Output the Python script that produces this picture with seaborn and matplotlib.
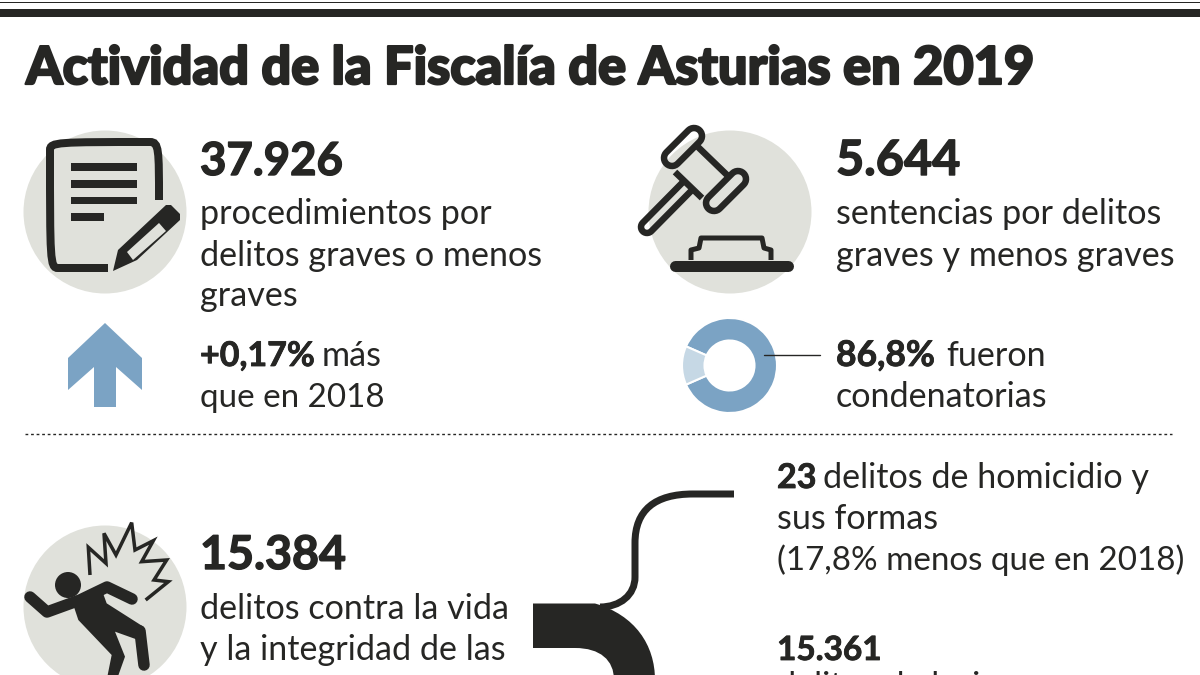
import numpy as np
import matplotlib
matplotlib.use("Agg")
import matplotlib.pyplot as plt
import matplotlib.patheffects as pe
from matplotlib.patches import Circle, Polygon, PathPatch, Rectangle
from matplotlib.path import Path
import seaborn as sns

# ---- data ----
TITLE = "Actividad de la Fiscalía de Asturias en 2019"
BIG_NUMBERS = ["37.926", "5.644", "15.384"]
SENTENCE_SHARE = [86.8, 13.2]
SHARE_LABEL = "86,8%"
CHANGE_LABEL = "+0,17%"
HOMICIDE_LABEL = "23"
INJURY_LABEL = "15.361"

INK = "#262624"
DISC = "#E0E1DB"
BLUE = "#7BA3C4"
PALE = "#C6D8E5"

sns.set_theme(style="white")
LIGHT = ["Lato", "DejaVu Sans"]
HEAVY = ["Lato", "DejaVu Sans"]
plt.rcParams["font.family"] = LIGHT

fig = plt.figure(figsize=(12, 6.75), dpi=100, facecolor="white")
ax = fig.add_axes([0, 0, 1, 1])
PX = 0.72


def text(x, y, s, size=24.6, weight="normal", family=None, thick=0):
    t = ax.text(x, y, s, fontsize=size, weight=weight, color=INK, va="baseline",
                ha="left", family=family or LIGHT, zorder=5)
    if thick:
        t.set_path_effects([pe.withStroke(linewidth=thick, foreground=INK)])
    return t


def stroke(pts, lw, color=INK, cap="butt", join="round", z=3, closed=False):
    pts = np.array(pts, float)
    ax.add_patch(Polygon(pts, closed=closed, fill=False, edgecolor=color, linewidth=lw * PX,
                         capstyle=cap, joinstyle=join, zorder=z))


def capsule(p, q, hw):
    p, q = np.array(p, float), np.array(q, float)
    a = np.arctan2(*(q - p)[::-1])
    t1 = np.linspace(a + np.pi / 2, a - np.pi / 2, 14)
    t2 = np.linspace(a - np.pi / 2, a - 3 * np.pi / 2, 14)
    return np.vstack([q + hw * np.c_[np.cos(t1), np.sin(t1)],
                      p + hw * np.c_[np.cos(t2), np.sin(t2)]])


def curve(verts, codes, lw=None, face="none", z=3):
    ax.add_patch(PathPatch(Path(verts, codes), facecolor=face,
                           edgecolor=INK if lw else "none", linewidth=(lw or 0) * PX,
                           capstyle="butt", zorder=z))


M, L, C = Path.MOVETO, Path.LINETO, Path.CURVE4

# rules
ax.add_patch(Rectangle((0, 1.5), 1200, 1.6, color=INK, lw=0))
ax.add_patch(Rectangle((0, 9.3), 1200, 8, color=INK, lw=0))
text(26, 84, TITLE, size=37.6, weight=900, family=HEAVY, thick=1.6)

# discs
for c in [(105, 212), (730, 212), (105, 607)]:
    ax.add_patch(Circle(c, 81.5, color=DISC, lw=0, zorder=1))

# document icon
curve([(108, 268), (58, 268), (50, 268), (50, 260), (50, 150), (50, 142), (58, 142),
       (150, 142), (159, 142), (159, 150), (159, 200)],
      [M, L, C, C, L, C, C, L, C, C, L], lw=8)
for y0, y1, x1 in [(163, 171, 137), (180, 188, 137), (197, 204, 137), (213, 221, 104)]:
    ax.add_patch(Rectangle((71, y0), x1 - 71, y1 - y0, color=INK, lw=0, zorder=3))
ax.add_patch(Polygon([(113, 271), (118, 250), (166, 205), (171, 205), (180, 214), (180, 220),
                      (137, 260)], color=INK, lw=0, zorder=3))
ax.add_patch(Polygon([(127, 252), (159, 223), (166, 231), (133, 260)], color=DISC, lw=0, zorder=4))

# arrow
ax.add_patch(Polygon([(105, 323), (142, 358), (142, 390), (116, 367), (116, 407), (94, 407),
                      (94, 367), (68, 390), (68, 358)], color=BLUE, lw=0, zorder=3))

# gavel icon
stroke(capsule((694, 136), (672, 158), 8), 6.5, closed=True)
stroke(capsule((738, 179), (714, 203), 8), 6.5, closed=True)
stroke([(698, 147), (727, 175)], 6.5)
stroke([(675, 172), (702, 198)], 6.5)
handle = capsule((688, 185), (647, 227), 6)[:14]
stroke(np.vstack([[(684, 181)], handle, [(692, 190)]]), 6.5)
stroke([(675, 265.5), (788, 265.5)], 11, cap="round")
stroke([(691, 260), (691, 250), (699, 248), (701, 238), (762, 238), (764, 248), (771, 250),
        (771, 260)], 5)

# donut
ax.pie(SENTENCE_SHARE, colors=[BLUE, PALE], center=(729.5, 365.5), radius=47.5,
       startangle=203.76, frame=True, wedgeprops=dict(width=22.5, edgecolor="white", linewidth=1.5))
ax.plot([764, 820], [355, 355], color=INK, lw=1.0, zorder=4)

# dotted divider
ax.plot([25, 1172], [434, 434], color=INK, lw=1.0, ls=(0, (2, 2)), zorder=3)

# falling man
ax.add_patch(Circle((68, 585), 13, color=INK, lw=0, zorder=3))
stroke([(30, 597), (47, 612), (80, 600), (107, 587), (132, 599)], 11.5, cap="round")
stroke([(140, 631), (144, 665)], 11.5, cap="round")
torso = np.array([(215, 300), (300, 255), (320, 310), (430, 380), (415, 420), (345, 395),
                  (375, 470), (350, 540), (320, 540), (335, 465), (235, 360)], float)
ax.add_patch(Polygon(torso / 3 + [0, 500], color=INK, lw=0, zorder=3))
burst = np.array([(270, 225), (265, 142), (318, 190), (312, 100), (348, 165), (395, 68), (405, 150),
                  (460, 122), (425, 185), (500, 180), (462, 240), (505, 245), (437, 300)], float)
stroke(burst / 3 + [0, 500], 3.5, join="miter")

# braces
curve([(734, 494), (693, 494), (655, 494), (635, 510), (635, 543), (635, 577), (635, 595),
       (620, 607), (600, 607)], [M, L, C, C, C, L, C, C, C], lw=7)
curve([(533, 603.5), (595, 603.5), (635, 615), (655, 645), (655, 680), (614, 680), (614, 660),
       (600, 648), (575, 648), (533, 648), (533, 603.5)],
      [M, L, C, C, C, L, C, C, C, L, L], face=INK)

# texts
text(200, 175, BIG_NUMBERS[0], size=32.8, weight="bold", family=HEAVY, thick=1)
for y, s in zip([224, 266, 306], ["procedimientos por", "delitos graves o menos", "graves"]):
    text(200, y, s)
text(200, 366, CHANGE_LABEL, weight="bold", family=HEAVY, size=24.5, thick=0.6)
text(322, 366, "más")
text(200, 407, "que en 2018", size=23.9)

text(836, 175, BIG_NUMBERS[1], size=35, weight="bold", family=HEAVY, thick=1)
for y, s in zip([224, 266], ["sentencias por delitos", "graves y menos graves"]):
    text(836, y, s)
text(836, 366, SHARE_LABEL, weight="bold", family=HEAVY, size=25.5, thick=0.6)
text(946, 366, "fueron")
text(836, 407, "condenatorias")

text(200, 569, BIG_NUMBERS[2], size=33.5, weight="bold", family=HEAVY, thick=1)
for y, s in zip([619, 660], ["delitos contra la vida", "y la integridad de las"]):
    text(200, y, s)

text(777, 488, HOMICIDE_LABEL, weight="bold", family=HEAVY, size=24.5, thick=0.6)
text(823, 488, "delitos de homicidio y")
text(777, 529, "sus formas")
text(777, 570, "(17,8% menos que en 2018)", size=23.9)
text(777, 660, INJURY_LABEL, weight="bold", family=HEAVY, size=24, thick=0.6)
text(777, 697, "delitos de lesiones")

ax.set_xlim(0, 1200)
ax.set_ylim(675, 0)
ax.set_aspect("auto")
ax.axis("off")
fig.savefig("out.png", dpi=100, facecolor="white")
